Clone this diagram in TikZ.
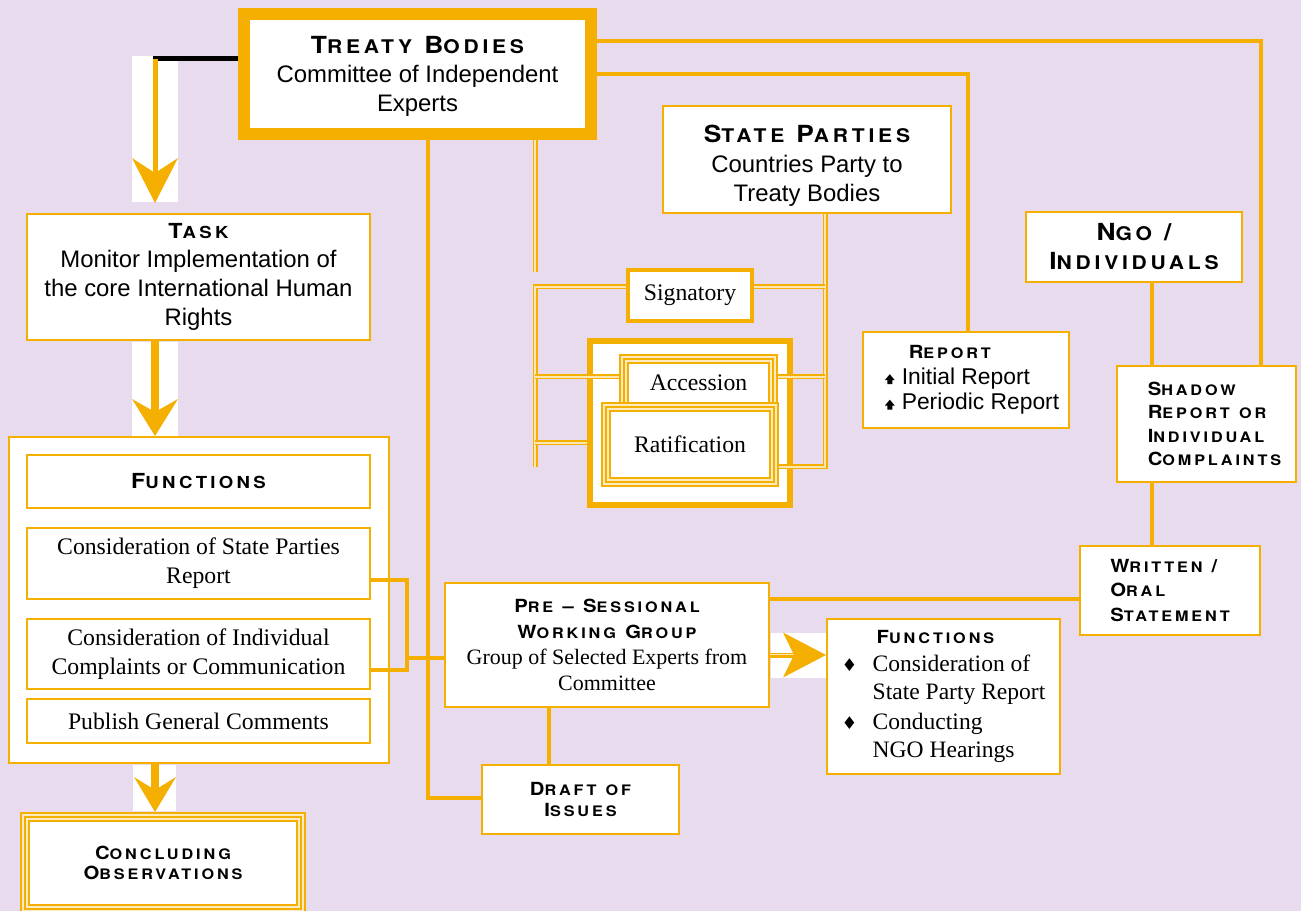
\documentclass[tikz,border=0pt]{standalone}
\usepackage{fontspec}
\setmainfont{Liberation Serif}
\newfontfamily\arialfont{Liberation Sans}
\newfontfamily\hdfont[LetterSpace=20, FakeStretch=1.12]{TeX Gyre Heros}
\newfontfamily\symfont{DejaVu Sans}
\usetikzlibrary{arrows.meta}

\definecolor{orng}{RGB}{245,175,0}
\definecolor{bgpurple}{RGB}{231,219,237}

\newlength\pxl
\setlength\pxl{0.02cm}

% copperplate-like small caps
\makeatletter
\newcommand\hw[1]{\hw@split#1\@nil}
\def\hw@split#1#2\@nil{#1{\hw@small\MakeUppercase{#2}}}
\newcommand\hs[1]{{\hw@small\MakeUppercase{#1}}}
\def\hw@small{\@tempdima=\f@size pt\@tempdima=0.8\@tempdima
  \fontsize{\strip@pt\@tempdima}{\f@baselineskip}\selectfont}
\makeatother

\newcommand\hdbig{\hdfont\bfseries\fontsize{13.4}{16.5}\selectfont}
\newcommand\hdmid{\hdfont\bfseries\fontsize{11.8}{14}\selectfont}
\newcommand\hdsm{\hdfont\bfseries\fontsize{10.3}{13.4}\selectfont}
\newcommand\upbul{\tikz[baseline=0pt, x=\pxl, y=\pxl]\fill (2.5,0) rectangle (7.5,4) (0,4) -- (5,10) -- (10,4) -- cycle;}
\newcommand\dmbul{{\symfont\fontsize{10}{10}\selectfont ♦}}

\tikzset{
  box/.style={draw=orng, fill=white, line width=2\pxl, inner sep=0pt, align=center,
    font=\fontsize{13.5}{16.4}\selectfont},
  sansbox/.style={box, font=\arialfont\fontsize{13.6}{16.6}\selectfont},
  triplebox/.style={box, line width=10\pxl,
    postaction={draw=orng!25!white, line width=6\pxl},
    postaction={draw=orng, line width=2\pxl}},
  link/.style={draw=orng, line width=4\pxl},
  dbllink/.style={draw=orng, line width=1.8\pxl, double=orng!30!white, double distance=1.4\pxl},
  strip/.style={fill=white}
}

\begin{document}
\begin{tikzpicture}[x=0.02cm, y=-0.02cm]
\useasboundingbox (0,0) rectangle (1301,911);
\fill[bgpurple] (0,0) rectangle (1301,911);

\fill[strip] (132,56) rectangle (178,202);
\fill[strip] (132,342) rectangle (178,436);
\fill[strip] (133,765) rectangle (176,811);
\fill[strip] (771,633) rectangle (826,678);

\node[sansbox, line width=12\pxl, minimum width=347\pxl, minimum height=120\pxl] (tb) at (417.5,74)
  {\rule{0pt}{22\pxl}{\hdbig\hw{Treaty} \hw{Bodies}}\\Committee of Independent\\Experts};
\node[sansbox, minimum width=343\pxl, minimum height=126\pxl] (task) at (198.5,277)
  {{\hdmid\hw{Task}}\\Monitor Implementation of\\the core International Human\\Rights};

\node[box, minimum width=380\pxl, minimum height=326\pxl] (fnout) at (199,600) {};
\node[box, minimum width=343\pxl, minimum height=53\pxl] (fnhead) at (198.5,481.5) {\hdmid\hw{Functions}};
\node[box, minimum width=343\pxl, minimum height=71\pxl] (fnsp) at (198.5,563.5)
  {Consideration of State Parties\\Report};
\node[box, minimum width=343\pxl, minimum height=70\pxl] (fnind) at (198.5,654)
  {Consideration of Individual\\Complaints or Communication};
\node[box, minimum width=343\pxl, minimum height=44\pxl] (fnpub) at (198.5,721) {Publish General Comments};

\node[triplebox, font=\hdsm\fontsize{10.3}{11.4}\selectfont, minimum width=276\pxl, minimum height=92\pxl] (concl) at (163,863)
  {\hw{Concluding}\\\hw{Observations}};

\node[sansbox, minimum width=288\pxl, minimum height=107\pxl] (sp) at (807,159.5)
  {\rule{0pt}{30\pxl}{\hdbig\hw{State} \hw{Parties}}\\Countries Party to\\Treaty Bodies};
\node[box, line width=4\pxl, minimum width=124\pxl, minimum height=51\pxl] (sig) at (690,295.5) {Signatory};
\node[box, line width=6\pxl, minimum width=200\pxl, minimum height=164\pxl] (ratfr) at (690,423) {};
\node[triplebox, minimum width=149\pxl, minimum height=48\pxl] (acc) at (698.5,383) {Accession};
\node[triplebox, minimum width=168\pxl, minimum height=75\pxl] (rat) at (690,444.5) {Ratification};

\node[sansbox, align=left, font=\arialfont\fontsize{13}{14.5}\selectfont, minimum width=206\pxl, minimum height=96\pxl] (rep) at (966,380)
  {\hspace*{36\pxl}{\hdsm\hw{Report}}\\
   \hspace*{12\pxl}\upbul\hspace{7\pxl}Initial Report\\
   \hspace*{12\pxl}\upbul\hspace{7\pxl}Periodic Report};
\node[box, font=\hdbig, minimum width=216\pxl, minimum height=70\pxl] (ngo) at (1134,247)
  {\hw{Ngo} /\\\hw{Individuals}};
\node[box, align=left, font=\hdsm, minimum width=179\pxl, minimum height=116\pxl] (shadow) at (1206.5,424)
  {\hspace*{16\pxl}\hw{Shadow}\\\hspace*{16\pxl}\hw{Report} \hs{or}\\
   \hspace*{16\pxl}\hw{Individual}\\\hspace*{16\pxl}\hw{Complaints}};
\node[box, align=left, font=\hdsm\fontsize{10.3}{13.9}\selectfont, minimum width=180\pxl, minimum height=89\pxl] (written) at (1170,590.5)
  {\hw{Written} /\\\hw{Oral}\\\hw{Statement}};

\node[box, font=\fontsize{12.5}{14.8}\selectfont, minimum width=324\pxl, minimum height=124\pxl] (pre) at (607,645)
  {{\hdsm\hw{Pre} – \hw{Sessional}}\\{\hdsm\hw{Working} \hw{Group}}\\Group of Selected Experts from\\Committee};
\node[box, font=\hdsm\fontsize{10.3}{11.9}\selectfont, minimum width=197\pxl, minimum height=69\pxl] (draft) at (580.5,799.5)
  {\hw{Draft} \hs{of}\\\hw{Issues}};
\node[box, align=left, font=\fontsize{13.4}{15.9}\selectfont, minimum width=233\pxl, minimum height=155\pxl] (fn2) at (943.5,696.5)
  {\hspace*{35\pxl}{\hdsm\hw{Functions}}\\
   \makebox[31\pxl][l]{\dmbul}Consideration of\\
   \hspace*{31\pxl}State Party Report\\[1pt]
   \makebox[31\pxl][l]{\dmbul}Conducting\\
   \hspace*{31\pxl}NGO Hearings};

% arrows down the left side
\coordinate (blk) at (155,59);
\draw[black, line width=5\pxl] ([xshift=-2\pxl]blk) -- (tb.west |- blk);
\draw[orng, line width=5\pxl, -{Stealth[length=9mm, width=9.2mm, inset=3mm, line width=0pt]}, shorten >=10\pxl]
  (blk) -- (task.north -| blk);
\draw[orng, line width=8\pxl, -{Stealth[length=7.4mm, width=9.2mm, inset=2.6mm, line width=0pt]}]
  (task.south -| blk) -- (fnout.north -| blk);
\draw[orng, line width=8\pxl, -{Stealth[length=7mm, width=8.4mm, inset=2.6mm, line width=0pt]}]
  (fnout.south -| blk) -- (concl.north -| blk);

% links
\draw[link] (fnsp.east |- 0,580) -| (407,670) -- (fnind.east |- 0,670);
\draw[link] (407,658) -- (pre.west |- 0,658);
\draw[link] (tb.south -| 428,0) |- (draft.west |- 0,798);
\draw[link] (tb.east |- 0,74) -| (rep.north -| 968,0);
\draw[link] (tb.east |- 0,41) -| (shadow.north -| 1261,0);
\draw[link] (ngo.south -| 1152,0) -- (shadow.north -| 1152,0);
\draw[link] (shadow.south -| 1152,0) -- (written.north -| 1152,0);
\draw[link] (written.west |- 0,599) -- (pre.east |- 0,599);
\draw[link] (pre.south -| 549,0) -- (draft.north -| 549,0);
\draw[dbllink, line width=1.5\pxl, double distance=2\pxl, shorten >=30\pxl] (pre.east |- 0,655) -- (fn2.west |- 0,655);
\draw[orng, line width=0.2\pxl, -{Stealth[length=8.6mm, width=9mm, inset=2.2mm, line width=0pt]}]
  (pre.east |- 0,655) -- (fn2.west |- 0,655);

% ratification branches
\draw[dbllink] (tb.south -| 535,0) -- (535,272);
\draw[dbllink] (535,467) -- (535,287) -- (sig.west |- 0,287);
\draw[dbllink] (535,377) -- (acc.west |- 0,377);
\draw[dbllink] (535,443) -- (ratfr.west |- 0,443);
\draw[dbllink] (sp.south -| 825,0) -- (825,467) -- (rat.east |- 0,467);
\draw[dbllink] (sig.east |- 0,287) -- (825,287);
\draw[dbllink] (acc.east |- 0,377) -- (825,377);
\end{tikzpicture}
\end{document}
